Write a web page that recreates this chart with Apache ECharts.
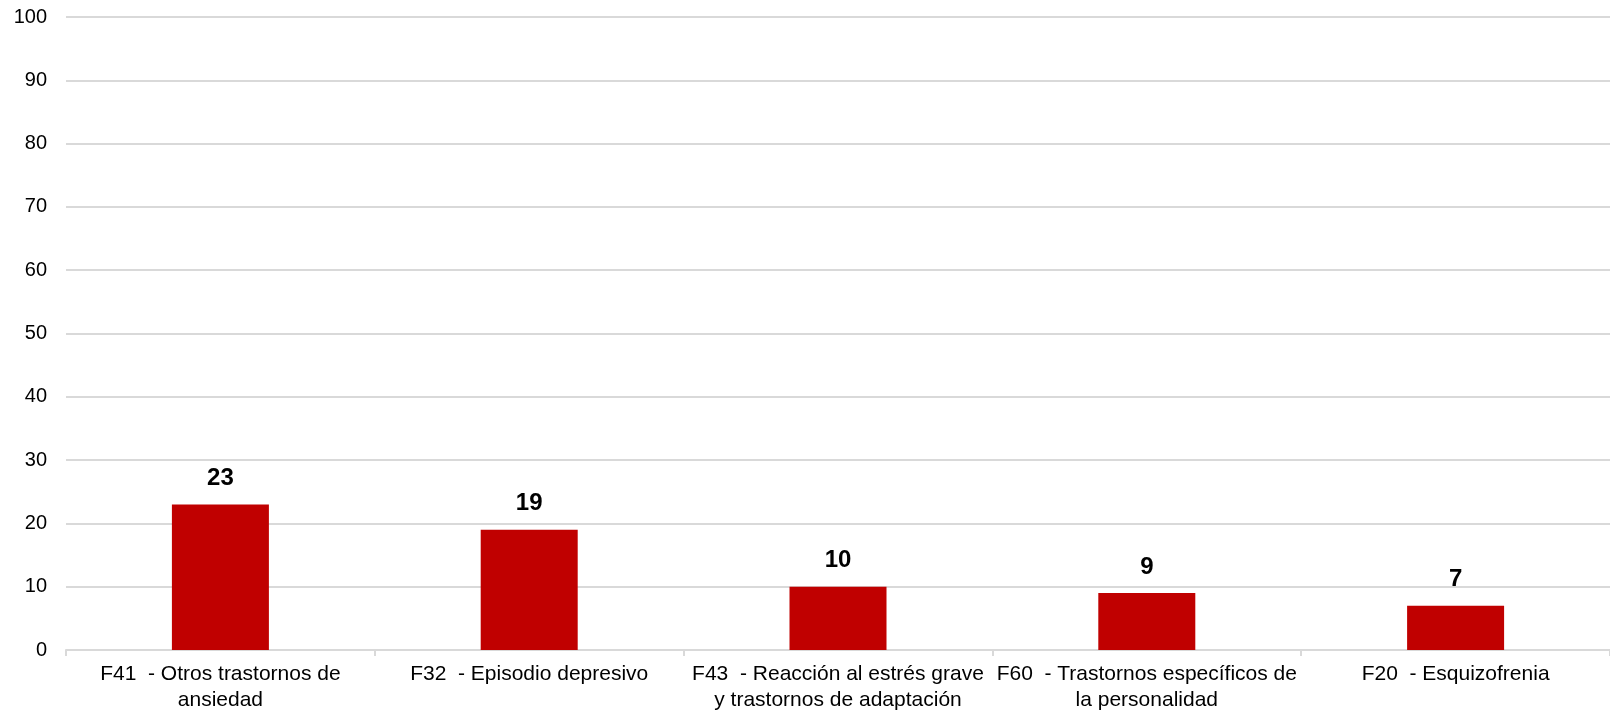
<!DOCTYPE html>
<html><head><meta charset="utf-8">
<script src="https://cdn.jsdelivr.net/npm/echarts@6/dist/echarts.min.js"></script>
<style>html,body{margin:0;padding:0;background:#fff}#c{width:1610px;height:713px}</style>
</head><body><div id="c"></div>
<script>
const categories = [
  "F41  - Otros trastornos de\nansiedad",
  "F32  - Episodio depresivo",
  "F43  - Reacción al estrés grave\ny trastornos de adaptación",
  "F60  - Trastornos específicos de\nla personalidad",
  "F20  - Esquizofrenia"
];
const values = [23, 19, 10, 9, 7];
const yMin = 0, yMax = 100, yInterval = 10;

const chart = echarts.init(document.getElementById('c'), null, {renderer: 'canvas'});
chart.setOption({
  animation: false,
  grid: {left: 66, right: 0, top: 17, bottom: 63, containLabel: false},
  xAxis: {
    type: 'category',
    data: categories,
    axisLine: {lineStyle: {color: '#d9d9d9', width: 2}},
    axisTick: {show: true, alignWithLabel: false, length: 6, lineStyle: {color: '#d9d9d9', width: 2}},
    axisLabel: {interval: 0, color: '#000', fontFamily: 'Liberation Sans, Arial', fontSize: 21, lineHeight: 26, margin: 11}
  },
  yAxis: {
    type: 'value', min: yMin, max: yMax, interval: yInterval,
    axisLine: {show: false}, axisTick: {show: false},
    splitLine: {lineStyle: {color: '#d9d9d9', width: 2}},
    axisLabel: {color: '#000', fontFamily: 'Liberation Sans, Arial', fontSize: 20, margin: 19}
  },
  series: [{
    type: 'bar',
    data: values,
    barWidth: 97,
    itemStyle: {color: '#C00000'},
    label: {show: true, position: 'top', distance: 14, color: '#000', fontWeight: 'bold', fontFamily: 'Liberation Sans, Arial', fontSize: 24}
  }]
});
</script></body></html>
